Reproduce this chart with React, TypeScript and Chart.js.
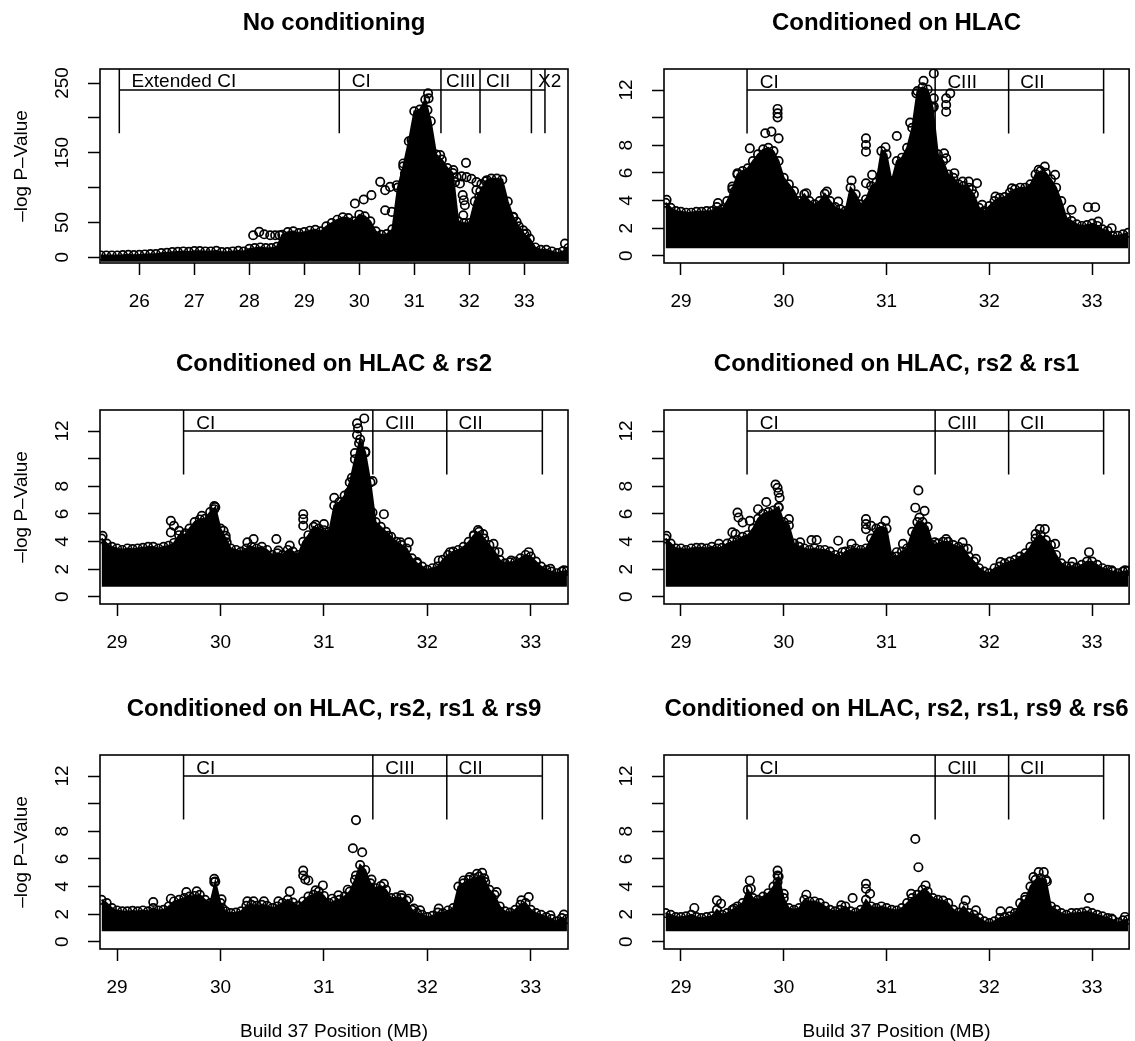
import React, { useEffect, useRef } from 'react';
import { Chart, registerables } from 'chart.js';

Chart.register(...registerables);

const FONT_FAMILY = "'Liberation Sans', Arial, Helvetica, sans-serif";
Chart.defaults.font.family = FONT_FAMILY;
Chart.defaults.color = '#000';

// ---------------- text ----------------
const panelTitles = [
  'No conditioning',
  'Conditioned on HLAC',
  'Conditioned on HLAC & rs2',
  'Conditioned on HLAC, rs2 & rs1',
  'Conditioned on HLAC, rs2, rs1 & rs9',
  'Conditioned on HLAC, rs2, rs1, rs9 & rs6',
];
const yAxisTitle = '–log P–Value';
const xAxisTitle = 'Build 37 Position (MB)';

// ---------------- axes ----------------
const wideXRange = [25.285, 33.795];
const zoomXRange = [28.835, 33.36];
const wideYRange = [-8.2, 270.1];
const zoomYRange = [-0.52, 13.52];

const wideXTicks = [26, 27, 28, 29, 30, 31, 32, 33];
const wideXTickLabels = ['26', '27', '28', '29', '30', '31', '32', '33'];
const zoomXTicks = [29, 30, 31, 32, 33];
const zoomXTickLabels = ['29', '30', '31', '32', '33'];
const wideYTicks = [0, 50, 100, 150, 200, 250];
const wideYTickLabels = ['0', '50', '', '150', '', '250'];
const zoomYTicks = [0, 2, 4, 6, 8, 10, 12];
const zoomYTickLabels = ['0', '2', '4', '6', '8', '', '12'];

// ---------------- region brackets ----------------
const wideBracketBounds = [25.636, 29.636, 31.485, 32.195, 33.13, 33.376];
const wideBracketNames = ['Extended CI', 'CI', 'CIII', 'CII', 'X2'];
const wideBracketLabelAt = [25.86, 29.865, 31.576, 32.303, 33.249];
const wideBracketLevels = [240, 178]; // bar, foot
const zoomBracketBounds = [29.643, 31.473, 32.188, 33.112];
const zoomBracketNames = ['CI', 'CIII', 'CII'];
const zoomBracketLabelAt = [29.766, 31.592, 32.301];
const zoomBracketLevels = [12, 8.85];

// ---------------- dense point cloud: positions (MB) and upper edge (-log P) ----------------
const wideGridMb = [
  25.3, 25.4, 25.5, 25.6, 25.7, 25.8, 25.9, 26.0, 26.1, 26.2,
  26.3, 26.4, 26.5, 26.6, 26.7, 26.8, 26.9, 27.0, 27.1, 27.2,
  27.3, 27.4, 27.5, 27.6, 27.7, 27.8, 27.9, 28.0, 28.1, 28.2,
  28.3, 28.4, 28.5, 28.6, 28.7, 28.8, 28.9, 29.0, 29.1, 29.2,
  29.3, 29.4, 29.5, 29.6, 29.7, 29.8, 29.9, 30.0, 30.1, 30.2,
  30.3, 30.4, 30.5, 30.6, 30.7, 30.8, 30.9, 31.0, 31.1, 31.2,
  31.3, 31.4, 31.5, 31.6, 31.7, 31.8, 31.9, 32.0, 32.1, 32.2,
  32.3, 32.4, 32.5, 32.6, 32.7, 32.8, 32.9, 33.0, 33.1, 33.2,
  33.3, 33.4, 33.5, 33.6, 33.7, 33.8,
];
const zoomGridMb = [
  28.85, 28.9, 28.95, 29.0, 29.05, 29.1, 29.15, 29.2, 29.25, 29.3,
  29.35, 29.4, 29.45, 29.5, 29.55, 29.6, 29.65, 29.7, 29.75, 29.8,
  29.85, 29.9, 29.95, 30.0, 30.05, 30.1, 30.15, 30.2, 30.25, 30.3,
  30.35, 30.4, 30.45, 30.5, 30.55, 30.6, 30.65, 30.7, 30.75, 30.8,
  30.85, 30.9, 30.95, 31.0, 31.05, 31.1, 31.15, 31.2, 31.25, 31.3,
  31.35, 31.4, 31.45, 31.5, 31.55, 31.6, 31.65, 31.7, 31.75, 31.8,
  31.85, 31.9, 31.95, 32.0, 32.05, 32.1, 32.15, 32.2, 32.25, 32.3,
  32.35, 32.4, 32.45, 32.5, 32.55, 32.6, 32.65, 32.7, 32.75, 32.8,
  32.85, 32.9, 32.95, 33.0, 33.05, 33.1, 33.15, 33.2, 33.25, 33.3,
  33.35,
];

const panel1Top = [
  2.6, 2.6, 2.6, 2.6, 3.1, 3.6, 3.1, 3.6, 4.1, 4.5,
  4.5, 6.0, 6.5, 7.4, 7.9, 8.4, 7.9, 8.9, 8.9, 8.4,
  8.4, 9.3, 7.4, 7.4, 8.4, 9.3, 8.4, 12.2, 13.2, 14.1,
  13.2, 13.2, 15.1, 32.3, 36.2, 37.1, 34.7, 36.2, 38.1, 39.5,
  37.1, 44.3, 49.1, 53.9, 57.2, 56.3, 51.5, 61.1, 58.7, 51.5,
  37.1, 32.3, 33.3, 40, 100, 130.5, 166.4, 209.5, 211.9, 226.3,
  195.2, 147.3, 140.1, 128.1, 120.9, 51.5, 49.1, 49.1, 80.2, 94.6,
  109, 112.8, 112.8, 111.4, 80, 57.2, 44.3, 33.3, 26.6, 14.1,
  10.8, 10.8, 8.4, 6.0, 8.4, 13.2,
];
const panel2Top = [
  3.84, 3.48, 3.24, 3.19, 3.12, 3.12, 3.19, 3.19, 3.24, 3.24,
  3.53, 3.37, 3.96, 4.81, 5.89, 6.13, 6.33, 6.86, 7.34, 7.7,
  7.82, 7.58, 6.86, 5.65, 5.17, 4.69, 3.96, 4.45, 3.96, 3.72,
  3.96, 4.49, 3.96, 3.53, 3.37, 3.24, 4.93, 4.45, 3.72, 4.08,
  5.05, 5.29, 7.58, 7.34, 5.41, 6.86, 7.1, 7.82, 9.27, 11.92,
  12.2, 12.04, 10.71, 7.34, 6.86, 5.89, 5.65, 5.17, 5.05, 4.93,
  4.45, 3.48, 3.24, 3.6, 3.96, 4.2, 4.25, 4.57, 4.81, 4.93,
  4.93, 5.17, 5.89, 6.13, 6.01, 5.53, 4.93, 3.96, 2.76, 2.52,
  2.28, 2.16, 2.23, 2.33, 2.16, 1.92, 1.8, 1.44, 1.44, 1.55,
  1.67,
];
const panel3Top = [
  4.22, 3.86, 3.62, 3.5, 3.39, 3.5, 3.45, 3.5, 3.55, 3.62,
  3.62, 3.5, 3.62, 3.7, 3.9, 4.46, 4.46, 4.94, 5.41, 5.6,
  5.65, 6.13, 6.49, 4.94, 4.22, 3.5, 3.39, 3.27, 3.5, 3.62,
  3.5, 3.62, 3.39, 3.03, 3.15, 3.03, 3.39, 3.27, 3.03, 3.98,
  4.46, 5.06, 4.94, 4.82, 4.7, 6.61, 6.85, 7.33, 8.28, 9.96,
  11.39, 10.44, 8.28, 5.41, 5.06, 4.7, 4.34, 3.98, 3.75, 3.5,
  2.79, 2.43, 2.19, 1.95, 2.07, 2.19, 2.67, 3.03, 3.27, 3.39,
  3.62, 3.98, 4.46, 4.7, 4.22, 3.75, 3.27, 2.67, 2.43, 2.5,
  2.55, 2.79, 3.03, 2.91, 2.55, 2.19, 1.95, 1.83, 1.71, 1.83,
  1.88,
];
const panel4Top = [
  4.22, 3.86, 3.5, 3.5, 3.39, 3.5, 3.55, 3.55, 3.5, 3.62,
  3.5, 3.55, 3.86, 3.98, 4.1, 4.34, 4.46, 4.94, 5.65, 6.01,
  6.13, 6.25, 6.5, 5.41, 5.17, 3.86, 3.62, 3.5, 3.39, 3.5,
  3.39, 3.39, 3.27, 3.03, 2.91, 3.27, 3.39, 3.5, 3.39, 3.5,
  4.22, 4.94, 5.06, 4.94, 2.91, 2.91, 3.27, 3.5, 4.7, 5.41,
  5.41, 5.06, 3.75, 3.86, 3.98, 3.98, 3.75, 3.62, 3.5, 2.91,
  2.55, 2.07, 1.83, 1.71, 2.07, 2.19, 2.43, 2.55, 2.67, 2.91,
  3.15, 3.62, 4.22, 4.46, 4.1, 3.75, 3.03, 2.43, 2.19, 2.19,
  2.12, 2.31, 2.55, 2.55, 2.31, 2.07, 1.95, 1.83, 1.71, 1.83,
  1.88,
];
const panel5Top = [
  3.04, 2.8, 2.44, 2.27, 2.2, 2.2, 2.24, 2.2, 2.27, 2.2,
  2.44, 2.27, 2.32, 2.56, 2.92, 3.04, 3.16, 3.28, 3.32, 3.4,
  3.04, 2.8, 4.36, 2.8, 2.2, 2.08, 2.12, 2.2, 2.6, 2.68,
  2.6, 2.68, 2.6, 2.44, 2.56, 2.8, 3.04, 2.84, 2.6, 2.92,
  3.28, 3.4, 3.64, 3.32, 2.8, 2.92, 3.04, 3.28, 3.64, 4.48,
  5.56, 5.2, 4.24, 3.88, 4.04, 3.76, 3.16, 3.22, 3.16, 2.99,
  2.32, 2.08, 1.96, 1.79, 1.88, 2.12, 2.08, 2.27, 2.44, 4.0,
  4.24, 4.48, 4.6, 4.72, 4.6, 3.76, 3.4, 2.56, 2.2, 2.12,
  2.32, 2.68, 2.8, 2.32, 2.08, 1.96, 1.79, 1.64, 1.48, 1.72,
  1.64,
];
const panel6Top = [
  2.08, 1.96, 1.79, 1.79, 1.84, 1.96, 1.79, 1.72, 1.79, 1.84,
  2.32, 1.96, 2.08, 2.32, 2.56, 2.8, 3.76, 3.16, 3.04, 3.28,
  3.52, 4.0, 4.72, 3.16, 2.44, 2.32, 2.44, 3.04, 2.92, 2.92,
  2.8, 2.56, 2.32, 2.2, 2.32, 2.56, 2.2, 2.12, 2.32, 3.04,
  2.56, 2.44, 2.56, 2.44, 2.32, 2.27, 2.44, 2.8, 3.16, 3.4,
  3.76, 3.64, 3.16, 3.04, 2.99, 2.8, 2.32, 2.12, 2.56, 2.08,
  1.96, 1.72, 1.48, 1.36, 1.48, 1.72, 1.79, 1.84, 2.08, 2.8,
  3.04, 4.0, 4.48, 4.6, 4.48, 2.56, 2.32, 2.08, 1.96, 2.08,
  2.08, 2.12, 2.2, 2.08, 1.96, 1.84, 1.72, 1.6, 1.4, 1.55,
  1.6,
];
// lower edge of the dense cloud in each panel (-log P)
const cloudFloor = [-6.5, 0.55, 0.72, 0.72, 0.77, 0.77];

// ---------------- isolated SNPs above the cloud: [MB, -log P] ----------------
const panel1Outliers = [
  [28.07, 31.6], [28.18, 36.4], [28.27, 33], [28.38, 31.6], [28.47, 31.6], [28.55, 31.6],
  [29.92, 77.1], [30.08, 82.9], [30.22, 89.1], [30.38, 108.2], [30.47, 96.3], [30.56, 101], [30.47, 67.5], [30.59, 65.1],
  [30.68, 103.4], [30.8, 134.6], [30.83, 120.2], [30.95, 168.1], [31.1, 182.5],
  [31.25, 235.2], [31.26, 228], [31.24, 211.2], [31.47, 146.6], [31.44, 134.6],
  [31.94, 135.5], [31.77, 115], [31.86, 116], [31.95, 115], [32.04, 112.6], [32.13, 107.8], [32.22, 104.9],
  [31.74, 107.8], [31.83, 105.8], [31.71, 125],
  [31.88, 89.1], [31.9, 81.9], [31.92, 74.7], [31.89, 60.3], [32.18, 86.7], [32.21, 77.1], [32.13, 96.3],
  [32.8, 58], [32.86, 50.8], [32.98, 38.8], [33.04, 34], [33.74, 19.6], [32.32, 110.6],
];
const panel2Outliers = [
  [28.86, 4.05], [29.36, 3.81], [29.5, 5.01], [29.52, 4.65], [29.55, 5.98], [29.67, 7.78],
  [29.82, 8.87], [29.88, 8.99], [29.94, 10.63], [29.94, 10.31], [29.94, 10.02], [29.95, 8.5],
  [30.22, 4.53], [30.42, 4.65], [30.53, 3.93], [30.66, 5.45], [30.8, 8.51], [30.8, 8.02], [30.8, 7.54],
  [30.86, 5.86], [30.8, 5.25], [30.82, 3.86],
  [30.99, 7.86], [31.1, 8.67], [31.23, 9.64], [31.29, 11.76], [31.36, 12.67], [31.46, 13.2], [31.46, 11.4], [31.46, 10.8],
  [31.58, 11.4], [31.58, 10.92], [31.58, 10.43], [31.62, 11.76],
  [31.56, 7.42], [31.58, 7.06], [31.66, 5.98], [31.74, 5.37], [31.8, 5.37], [31.88, 5.25], [31.83, 4.77], [31.93, 3.69],
  [32.06, 4.29], [32.22, 4.89], [32.48, 6.22], [32.54, 6.46], [32.64, 5.86],
  [32.8, 3.33], [32.96, 3.52], [33.03, 3.52], [33.06, 2.48], [33.19, 2.0],
];
const panel3Outliers = [
  [28.86, 4.42], [28.94, 2.39], [29.52, 5.5], [29.55, 5.14], [29.52, 4.66], [29.6, 4.78], [29.66, 4.59],
  [29.82, 5.86], [29.94, 6.57], [29.94, 6.34], [30.03, 4.78], [30.05, 4.42], [30.06, 3.94],
  [30.26, 3.94], [30.32, 4.18], [30.54, 4.18], [30.56, 3.35], [30.67, 3.71],
  [30.8, 5.98], [30.8, 5.62], [30.8, 5.14], [30.92, 5.21], [31.0, 5.26],
  [31.1, 7.17], [31.24, 7.53], [31.27, 8.61], [31.3, 10.4], [31.32, 11.71], [31.33, 12.19], [31.32, 12.55],
  [31.39, 12.91], [31.34, 11.12], [31.4, 10.52], [31.47, 8.37], [31.47, 6.1], [31.58, 5.98],
  [31.62, 4.42], [31.74, 3.94], [31.82, 3.94], [31.9, 2.51], [32.11, 2.63],
  [32.22, 3.23], [32.45, 4.42], [32.49, 4.83], [32.54, 4.54], [32.64, 3.83], [32.69, 3.23], [32.81, 2.63],
  [32.98, 3.23], [33.19, 2.03], [33.32, 1.91],
];
const panel4Outliers = [
  [28.86, 4.42], [28.94, 2.39], [29.37, 3.83], [29.5, 4.66], [29.53, 4.54], [29.55, 6.1], [29.56, 5.74],
  [29.6, 5.38], [29.67, 5.5], [29.75, 6.34], [29.83, 6.86],
  [29.92, 8.13], [29.94, 7.89], [29.95, 7.53], [29.96, 7.17], [29.95, 6.45], [30.05, 5.62],
  [30.16, 3.94], [30.27, 4.11], [30.32, 4.11], [30.53, 4.06], [30.57, 3.23], [30.66, 3.83],
  [30.8, 5.62], [30.8, 5.26], [30.8, 4.9], [30.85, 5.14], [30.99, 5.5],
  [31.1, 3.23], [31.16, 3.83], [31.28, 6.45], [31.31, 7.7], [31.37, 6.22], [31.32, 5.74],
  [31.47, 3.94], [31.58, 4.18], [31.74, 3.94], [31.79, 3.47], [31.87, 2.75], [32.11, 2.51],
  [32.45, 4.54], [32.49, 4.9], [32.54, 4.9], [32.64, 3.83], [32.81, 2.51], [32.97, 3.23], [33.19, 1.91], [33.32, 1.91],
];
const panel5Outliers = [
  [29.35, 2.88], [29.52, 3.12], [29.67, 3.6], [29.77, 3.65], [29.94, 4.56], [29.94, 4.32], [30.01, 3.07], [30.02, 2.4],
  [30.26, 2.93], [30.32, 2.93], [30.42, 2.93], [30.56, 2.93], [30.67, 3.65],
  [30.8, 5.16], [30.8, 4.8], [30.82, 4.51], [30.85, 4.44], [30.92, 3.72], [30.99, 4.08], [31.08, 3.12], [31.14, 3.36], [31.23, 3.77],
  [31.31, 8.81], [31.28, 6.77], [31.37, 6.48], [31.31, 4.8],
  [31.46, 4.51], [31.58, 4.2], [31.75, 3.36], [31.82, 3.12], [31.87, 2.4], [31.93, 2.28], [32.11, 2.4],
  [32.35, 4.44], [32.41, 4.68], [32.48, 4.92], [32.53, 4.99], [32.56, 4.32], [32.67, 3.6],
  [32.91, 3.0], [32.98, 3.24], [33.19, 1.92], [33.32, 1.97],
];
const panel6Outliers = [
  [29.13, 2.45], [29.35, 3.0], [29.39, 2.76], [29.52, 2.4], [29.67, 4.44], [29.68, 3.84],
  [29.94, 5.16], [29.94, 4.8], [29.94, 4.32], [30.0, 3.48], [30.22, 3.41],
  [30.56, 2.64], [30.67, 3.17], [30.8, 4.2], [30.8, 3.84], [30.84, 3.48],
  [31.28, 7.44], [31.31, 5.4], [31.38, 4.08], [31.24, 3.48],
  [31.77, 3.0], [31.87, 2.28], [32.11, 2.21], [32.2, 2.21],
  [32.35, 3.24], [32.43, 4.68], [32.48, 5.04], [32.53, 5.04], [32.56, 4.37],
  [32.97, 3.17], [33.19, 1.68], [33.32, 1.8],
];

const panelTops = [panel1Top, panel2Top, panel3Top, panel4Top, panel5Top, panel6Top];
const panelOutliers = [panel1Outliers, panel2Outliers, panel3Outliers, panel4Outliers, panel5Outliers, panel6Outliers];

// ---------------- layout (pixels) ----------------
const COL_LEFT = [0, 564];
const COL_W = [603, 571];
const COL_RPAD = [35, 2];
const ROW_TOP = [0, 341, 686];
const BOX_TOP = 69;
const BOX_H = 194;
const XAXIS_H = [75, 75, 92];
const POINT_R = 4.2;
const POINT_LW = 1.7;

function makeConfig(i: number) {
  const col = i % 2;
  const row = Math.floor(i / 2);
  const wide = i === 0;
  const grid = wide ? wideGridMb : zoomGridMb;
  const top = panelTops[i];
  const xRange = wide ? wideXRange : zoomXRange;
  const yRange = wide ? wideYRange : zoomYRange;
  const xTicks = wide ? wideXTicks : zoomXTicks;
  const xLabels = wide ? wideXTickLabels : zoomXTickLabels;
  const yTicks = wide ? wideYTicks : zoomYTicks;
  const yLabels = wide ? wideYTickLabels : zoomYTickLabels;
  const bounds = wide ? wideBracketBounds : zoomBracketBounds;
  const names = wide ? wideBracketNames : zoomBracketNames;
  const labelAt = wide ? wideBracketLabelAt : zoomBracketLabelAt;
  const levels = wide ? wideBracketLevels : zoomBracketLevels;
  const title = panelTitles[i];

  const decor = {
    id: 'panelDecor' + i,
    afterDatasetsDraw(chart: any) {
      const { ctx, chartArea: ca, scales } = chart;
      const xs = scales.x;
      const ys = scales.y;
      ctx.save();
      ctx.beginPath();
      ctx.rect(ca.left, ca.top, ca.right - ca.left, ca.bottom - ca.top);
      ctx.clip();
      ctx.strokeStyle = '#000';
      ctx.lineWidth = 1.5;
      const barY = ys.getPixelForValue(levels[0]);
      const footY = ys.getPixelForValue(levels[1]);
      ctx.beginPath();
      ctx.moveTo(xs.getPixelForValue(bounds[0]), barY);
      ctx.lineTo(xs.getPixelForValue(bounds[bounds.length - 1]), barY);
      for (const b of bounds) {
        const px = xs.getPixelForValue(b);
        ctx.moveTo(px, ca.top);
        ctx.lineTo(px, footY);
      }
      ctx.stroke();
      ctx.fillStyle = '#000';
      ctx.font = `19px ${FONT_FAMILY}`;
      ctx.textAlign = 'left';
      ctx.textBaseline = 'alphabetic';
      names.forEach((n, k) => {
        ctx.fillText(n, xs.getPixelForValue(labelAt[k]), barY - 2.5);
      });
      ctx.restore();

      ctx.save();
      ctx.strokeStyle = '#000';
      ctx.lineWidth = 1.6;
      ctx.strokeRect(ca.left, ca.top, ca.right - ca.left, ca.bottom - ca.top);
      ctx.restore();
    },
    afterDraw(chart: any) {
      const { ctx, chartArea: ca } = chart;
      ctx.save();
      ctx.fillStyle = '#000';
      ctx.font = `bold 24px ${FONT_FAMILY}`;
      ctx.textAlign = 'center';
      ctx.textBaseline = 'middle';
      ctx.fillText(title, (ca.left + ca.right) / 2, ca.top - 46);
      ctx.restore();
    },
  };

  return {
    type: 'scatter',
    data: {
      datasets: [
        {
          type: 'line',
          data: grid.map((x, k) => ({ x, y: top[k] })),
          showLine: true,
          fill: { value: cloudFloor[i] },
          backgroundColor: '#000',
          borderColor: '#000',
          borderWidth: 1.8,
          tension: 0,
          pointStyle: 'circle',
          pointRadius: POINT_R,
          pointBorderWidth: POINT_LW,
          pointBackgroundColor: 'rgba(0,0,0,0)',
          pointBorderColor: '#000',
          clip: 0,
        },
        {
          type: 'scatter',
          data: panelOutliers[i].map(([x, y]) => ({ x, y })),
          showLine: false,
          pointStyle: 'circle',
          pointRadius: POINT_R,
          pointBorderWidth: POINT_LW,
          pointBackgroundColor: 'rgba(0,0,0,0)',
          pointBorderColor: '#000',
          clip: 0,
        },
      ],
    },
    options: {
      animation: false,
      responsive: false,
      maintainAspectRatio: false,
      devicePixelRatio: 1,
      events: [],
      layout: { padding: { top: BOX_TOP, right: COL_RPAD[col], bottom: 0, left: 0 } },
      plugins: {
        legend: { display: false },
        tooltip: { enabled: false },
        title: { display: false },
      },
      scales: {
        x: {
          type: 'linear',
          position: 'bottom',
          min: xRange[0],
          max: xRange[1],
          afterBuildTicks: (s: any) => {
            s.ticks = xTicks.map((v) => ({ value: v }));
          },
          afterFit: (s: any) => {
            s.height = XAXIS_H[row];
          },
          ticks: {
            autoSkip: false,
            minRotation: 0,
            maxRotation: 0,
            padding: 15,
            color: '#000',
            font: { size: 19, family: FONT_FAMILY },
            callback: (_v: any, idx: number) => xLabels[idx],
          },
          grid: {
            display: true,
            drawOnChartArea: false,
            drawTicks: true,
            tickLength: 12,
            tickWidth: 1.5,
            tickColor: '#000',
          },
          border: { display: false },
          title: {
            display: row === 2,
            text: xAxisTitle,
            color: '#000',
            font: { size: 19, family: FONT_FAMILY, lineHeight: 1 },
            padding: { top: 0, bottom: 0 },
          },
        },
        y: {
          type: 'linear',
          position: 'left',
          min: yRange[0],
          max: yRange[1],
          afterBuildTicks: (s: any) => {
            s.ticks = yTicks.map((v) => ({ value: v }));
          },
          afterFit: (s: any) => {
            s.width = 100;
          },
          ticks: {
            autoSkip: false,
            minRotation: 90,
            maxRotation: 90,
            crossAlign: 'center',
            padding: wide ? 9 : 14.4,
            color: '#000',
            font: { size: 19, family: FONT_FAMILY },
            callback: (_v: any, idx: number) => yLabels[idx],
          },
          grid: {
            display: true,
            drawOnChartArea: false,
            drawTicks: true,
            tickLength: 12,
            tickWidth: 1.5,
            tickColor: '#000',
          },
          border: { display: false },
          title: {
            display: col === 0,
            text: yAxisTitle,
            color: '#000',
            font: { size: 19, family: FONT_FAMILY },
            padding: { top: 10.6, bottom: 0 },
          },
        },
      },
    },
    plugins: [decor],
  };
}

function Panel({ index }: { index: number }) {
  const ref = useRef<HTMLCanvasElement | null>(null);
  const col = index % 2;
  const row = Math.floor(index / 2);
  const w = COL_W[col];
  const h = BOX_TOP + BOX_H + XAXIS_H[row];
  useEffect(() => {
    if (!ref.current) return;
    const chart = new Chart(ref.current, makeConfig(index) as any);
    return () => chart.destroy();
  }, [index]);
  return (
    <canvas
      ref={ref}
      width={w}
      height={h}
      style={{ position: 'absolute', left: COL_LEFT[col], top: ROW_TOP[row], width: w, height: h }}
    />
  );
}

export default function App() {
  return (
    <div
      style={{
        position: 'absolute',
        left: 0,
        top: 0,
        width: 1135,
        height: 1041,
        overflow: 'hidden',
        background: '#fff',
      }}
    >
      {panelTitles.map((_, i) => (
        <Panel key={i} index={i} />
      ))}
    </div>
  );
}
